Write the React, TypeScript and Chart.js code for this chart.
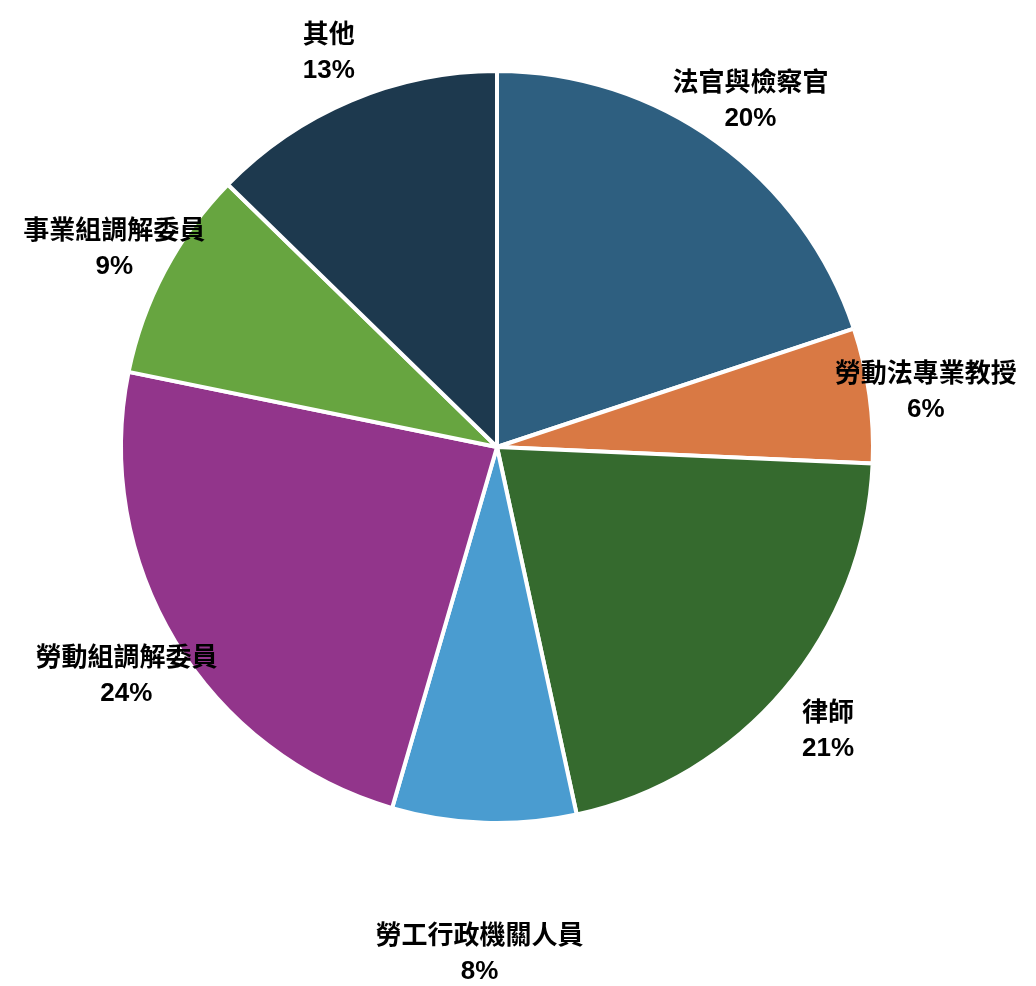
import React, { useEffect, useRef } from 'react';
import { Chart, registerables, Plugin } from 'chart.js';

Chart.register(...registerables);

const categories = ['法官與檢察官', '勞動法專業教授', '律師', '勞工行政機關人員', '勞動組調解委員', '事業組調解委員', '其他'];
const shares = [19.9, 5.8, 20.9, 7.9, 23.7, 9.1, 12.7];
const sliceColors = ['#2E5F80', '#D97944', '#356A2E', '#4A9CD0', '#92358B', '#67A540', '#1D394E'];

const total = shares.reduce((a, b) => a + b, 0);
const percentLabels = shares.map((v) => `${Math.round((v / total) * 100)}%`);

// draws the two-line name / percent labels outside each slice
const outsideLabels: Plugin<'pie'> = {
    id: 'outsideLabels',
    afterDraw(chart) {
        const ctx = chart.ctx;
        const meta = chart.getDatasetMeta(0);
        ctx.save();
        ctx.fillStyle = '#000';
        ctx.textAlign = 'center';
        ctx.textBaseline = 'middle';
        ctx.font = "bold 26px 'Liberation Sans', 'Noto Sans CJK TC', sans-serif";
        meta.data.forEach((el: any, i: number) => {
            const { x, y, startAngle, endAngle, outerRadius } = el.getProps(['x', 'y', 'startAngle', 'endAngle', 'outerRadius'], true);
            const mid = (startAngle + endAngle) / 2;
            let dist = outerRadius + 57;
            // labels hanging under the pie sit lower
            if (Math.abs(mid - Math.PI / 2) < 0.45) dist += 70;
            const lx = x + Math.cos(mid) * dist;
            const ly = y + Math.sin(mid) * dist + 5;
            ctx.fillText(categories[i], lx, ly - 17.5);
            ctx.fillText(percentLabels[i], lx, ly + 17.5);
        });
        ctx.restore();
    },
};

const PieChart = () => {
    const chartRef = useRef<HTMLCanvasElement>(null);

    useEffect(() => {
        document.body.style.margin = '0';
        if (!chartRef?.current) return;
        const ctx = chartRef.current.getContext('2d');
        if (!ctx) return;
        const myChart = new Chart(ctx, {
            type: 'pie',
            data: {
                labels: categories,
                datasets: [{
                    data: shares,
                    backgroundColor: sliceColors,
                    borderColor: '#fff',
                    borderWidth: 4,
                }]
            },
            options: {
                animation: false,
                responsive: true,
                maintainAspectRatio: false,
                radius: 376,
                layout: {
                    padding: { left: 0, right: 42, top: 0, bottom: 92 }
                },
                plugins: {
                    legend: { display: false },
                    tooltip: { enabled: false },
                }
            },
            plugins: [outsideLabels],
        });

        return () => {
            myChart.destroy();
        };
    }, []);

    return (
        <div style={{ position: 'relative', width: 1036, height: 986, background: '#fff' }}>
            <canvas ref={chartRef} />
        </div>
    );
};

export default function App() {
    return <PieChart />;
}
